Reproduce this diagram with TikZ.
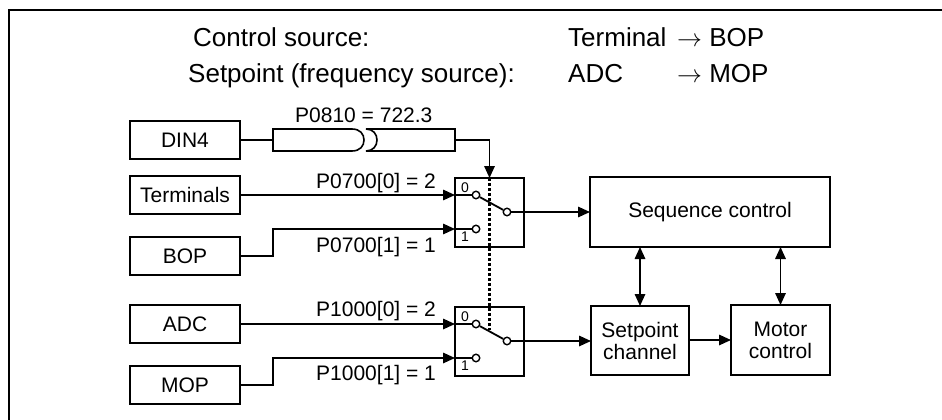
\documentclass[tikz,border=0pt]{standalone}
\usepackage{fontspec}
\setmainfont{Liberation Sans}
\usetikzlibrary{arrows.meta}
\begin{document}
\begin{tikzpicture}[x=1pt,y=-1pt,
  blk/.style={draw, line width=1.8pt, inner sep=0pt, outer sep=0pt, font=\fontsize{21}{22}\selectfont, align=center},
  conn/.style={line width=1.6pt},
  arr/.style={-{Triangle[length=12pt,width=10.5pt]}},
  dbl/.style={{Triangle[length=12pt,width=10.5pt]}-{Triangle[length=12pt,width=10.5pt]}},
  lbl/.style={anchor=base west, inner sep=0pt, font=\fontsize{21}{22}\selectfont},
  toptext/.style={anchor=base west, inner sep=0pt, font=\fontsize{26}{28}\selectfont},
  dig/.style={inner sep=0pt, font=\fontsize{14}{14}\selectfont},
  contact/.style={circle, draw, fill=white, line width=1.4pt, minimum size=7.5pt, inner sep=0pt},
  fuse/.style={draw, line width=1.6pt}]
\useasboundingbox (0,0) rectangle (942,420);
% frame
\draw[line width=2.5pt] (9,425) -- (9,10) -- (947,10);
% header text
\node[toptext] (h1) at (193,47) {Control source:};
\node[toptext] (h2) at (188,82) {Setpoint (frequency source):};
\node[toptext] (h3) at (568,47) {Terminal};
\node[toptext] (h4) at (677,47) {$\rightarrow$ BOP};
\node[toptext] (h5) at (568,82) {ADC};
\node[toptext] (h6) at (677,82) {$\rightarrow$ MOP};
% source boxes
\node[blk, minimum width=110pt, minimum height=38pt] (din) at (185,140) {DIN4};
\node[blk, minimum width=110pt, minimum height=38pt] (term) at (185,195) {Terminals};
\node[blk, minimum width=110pt, minimum height=38pt] (bop) at (185,256) {BOP};
\node[blk, minimum width=110pt, minimum height=38pt] (adc) at (185,324) {ADC};
\node[blk, minimum width=110pt, minimum height=38pt] (mop) at (185,385) {MOP};
% switch boxes
\node[blk, minimum width=69pt, minimum height=69pt] (sw1) at (489.5,212.5) {};
\node[blk, minimum width=69pt, minimum height=69pt] (sw2) at (489.5,341.5) {};
% right blocks
\node[blk, minimum width=240pt, minimum height=70pt] (seq) at (710,212) {Sequence control};
\node[blk, minimum width=98pt, minimum height=69pt] (spc) at (640,340.5) {Setpoint\\channel};
\node[blk, minimum width=99pt, minimum height=70pt] (mot) at (780.5,340) {Motor\\control};
% contacts
\node[contact] (c10) at (476,195) {};
\node[contact] (c11) at (476,229) {};
\node[contact] (p1) at (507,212) {};
\node[contact] (c20) at (476,324) {};
\node[contact] (c21) at (476,358) {};
\node[contact] (p2) at (507,341) {};
% contact digits
\node[dig] (d10) at (465,188) {0};
\node[dig] (d11) at (465,237) {1};
\node[dig] (d20) at (465,317) {0};
\node[dig] (d21) at (465,366) {1};
% fuse / connector symbol
\coordinate (fuseL) at (273,140);
\coordinate (fuseR) at (455,140);
\draw[fuse] (273,129) -- (352,129) .. controls (360,129) and (364,134) .. (364,140)
  .. controls (364,146) and (360,151) .. (352,151) -- (273,151) -- cycle;
\draw[fuse] (366,129) -- (455,129) -- (455,151) -- (366,151)
  .. controls (373,151) and (377,146) .. (377,140)
  .. controls (377,134) and (373,129) .. (366,129) -- cycle;
\draw[conn] (din.east) -- (fuseL);
\draw[conn, arr] (fuseR) -| (sw1.north);
\node[lbl] (l0) at (295,122) {P0810 = 722.3};
% inputs to switch 1
\draw[conn, arr] (term.east) -- (term.east -| sw1.west);
\draw[conn] (term.east -| sw1.west) -- (c10);
\draw[conn, arr] (bop.east) -- ++(33,0) |- (sw1.west |- c11);
\draw[conn] (sw1.west |- c11) -- (c11);
\node[lbl] (l1) at (316,188) {P0700[0] = 2};
\node[lbl] (l2) at (316,252) {P0700[1] = 1};
% inputs to switch 2
\draw[conn, arr] (adc.east) -- (adc.east -| sw2.west);
\draw[conn] (adc.east -| sw2.west) -- (c20);
\draw[conn, arr] (mop.east) -- ++(33,0) |- (sw2.west |- c21);
\draw[conn] (sw2.west |- c21) -- (c21);
\node[lbl] (l3) at (316,316) {P1000[0] = 2};
\node[lbl] (l4) at (316,380) {P1000[1] = 1};
% levers
\draw[conn, line width=1.8pt] (c10) -- (p1);
\draw[conn, line width=1.8pt] (c20) -- (p2);
% mechanical coupling (dashed)
\coordinate (dashEnd) at (489.5,330);
\draw[line width=2.2pt, dash pattern=on 3pt off 2pt] (sw1.north) -- (dashEnd);
% outputs
\draw[conn, arr] (p1) -- (p1 -| seq.west);
\draw[conn, arr] (p2) -- (p2 -| spc.west);
\draw[conn, arr] (spc.east |- mot.west) -- (mot.west);
\draw[conn, dbl] (seq.south -| spc.north) -- (spc.north);
\draw[conn, dbl] (seq.south -| mot.north) -- (mot.north);
\end{tikzpicture}
\end{document}
